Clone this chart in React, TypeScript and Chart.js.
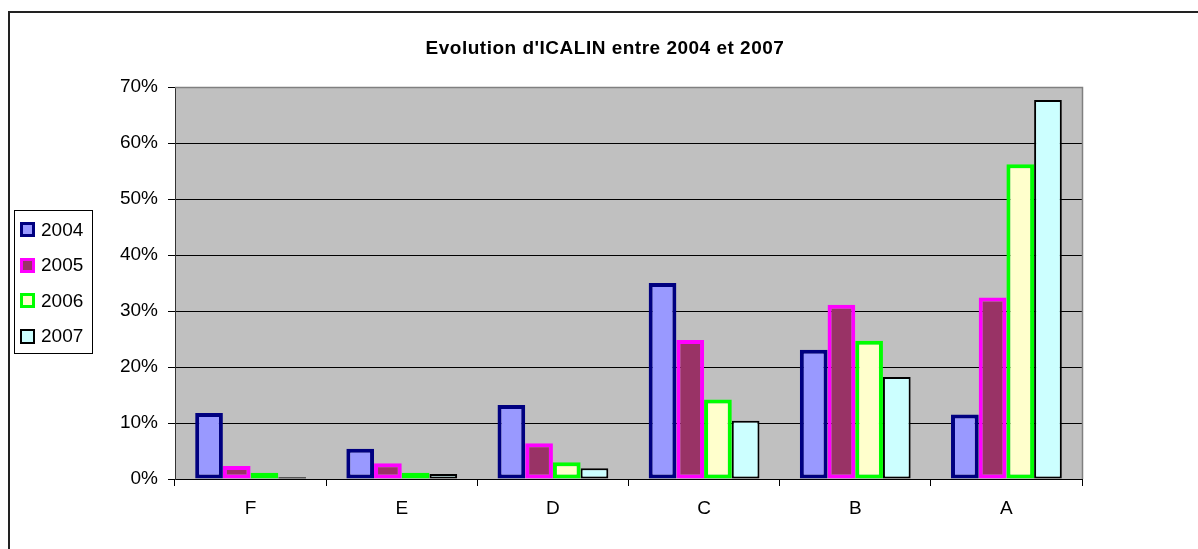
import React, { useEffect, useRef } from "react";
import { Chart, registerables } from "chart.js";

Chart.register(...registerables);

const TITLE = "Evolution d'ICALIN entre 2004 et 2007";
const categories = ["F", "E", "D", "C", "B", "A"];
const seriesLabels = ["2004", "2005", "2006", "2007"];
const s2004 = [11.8, 5.4, 13.2, 35.0, 23.1, 11.5];
const s2005 = [2.3, 2.8, 6.4, 24.8, 31.1, 32.4];
const s2006 = [1.1, 1.1, 3.0, 14.2, 24.7, 56.2];
const s2007 = [0.3, 0.9, 1.9, 10.4, 18.2, 67.7];
const yMin = 0;
const yMax = 70;
const yStep = 10;

const fills = ["#9999FF", "#993366", "#FFFFCC", "#CCFFFF"];
const borders = ["#000080", "#FF00FF", "#00FF00", "#000000"];
const borderWidths = [4, 4, 4, 2];

const FONT = "'Liberation Sans', Arial, sans-serif";

const decorPlugin = {
  id: "decor",
  beforeDraw(chart: any) {
    const { ctx, chartArea } = chart;
    ctx.save();
    ctx.fillStyle = "#FFFFFF";
    ctx.fillRect(0, 0, chart.width, chart.height);
    ctx.fillStyle = "#C0C0C0";
    ctx.fillRect(
      chartArea.left,
      chartArea.top,
      chartArea.right - chartArea.left,
      chartArea.bottom - chartArea.top
    );
    ctx.restore();
  },
  afterDraw(chart: any) {
    const { ctx, chartArea } = chart;
    ctx.save();
    // plot area right / top border
    ctx.strokeStyle = "#808080";
    ctx.lineWidth = 1.5;
    ctx.beginPath();
    ctx.moveTo(chartArea.left, Math.round(chartArea.top) + 0.5);
    ctx.lineTo(Math.round(chartArea.right) + 0.5, Math.round(chartArea.top) + 0.5);
    ctx.lineTo(Math.round(chartArea.right) + 0.5, chartArea.bottom);
    ctx.stroke();

    // outer frame
    ctx.strokeStyle = "#222222";
    ctx.lineWidth = 2;
    ctx.beginPath();
    ctx.moveTo(9, chart.height + 2);
    ctx.lineTo(9, 12);
    ctx.lineTo(chart.width + 2, 12);
    ctx.stroke();

    // title
    ctx.fillStyle = "#000000";
    ctx.font = `bold 19px ${FONT}`;
    try {
      (ctx as any).letterSpacing = "0.5px";
    } catch (e) {}
    ctx.textAlign = "center";
    ctx.textBaseline = "middle";
    ctx.fillText(TITLE, 605, 49);
    try {
      (ctx as any).letterSpacing = "0px";
    } catch (e) {}

    // legend
    ctx.strokeStyle = "#000000";
    ctx.lineWidth = 1;
    ctx.strokeRect(14.5, 210.5, 78, 143);
    const centers = [229.5, 265, 300.5, 336];
    ctx.font = `19px ${FONT}`;
    ctx.textAlign = "left";
    chart.data.datasets.forEach((ds: any, i: number) => {
      const cy = centers[i];
      const x0 = 20;
      const size = 15;
      const y0 = Math.round(cy - size / 2);
      const bw = i === 3 ? 2 : 3;
      ctx.fillStyle = ds.borderColor;
      ctx.fillRect(x0, y0, size, size);
      ctx.fillStyle = ds.backgroundColor;
      ctx.fillRect(x0 + bw, y0 + bw, size - 2 * bw, size - 2 * bw);
      ctx.fillStyle = "#000000";
      ctx.fillText(ds.label, 41, cy + 1);
    });
    ctx.restore();
  },
};

export default function App() {
  const ref = useRef<HTMLCanvasElement | null>(null);
  useEffect(() => {
    if (!ref.current) return;
    const series = [s2004, s2005, s2006, s2007];
    const chart = new Chart(ref.current, {
      type: "bar",
      data: {
        labels: categories,
        datasets: series.map((d, i) => ({
          label: seriesLabels[i],
          data: d,
          backgroundColor: fills[i],
          borderColor: borders[i],
          borderWidth: borderWidths[i],
          borderSkipped: false,
          categoryPercentage: 0.733,
          barPercentage: 1.0,
        })),
      },
      options: {
        responsive: false,
        animation: false,
        devicePixelRatio: 1,
        layout: { padding: { left: 0, right: 116, top: 87, bottom: 0 } },
        plugins: {
          legend: { display: false },
          title: { display: false },
          tooltip: { enabled: false },
        },
        scales: {
          x: {
            afterFit: (s: any) => {
              s.height = 70;
            },
            grid: {
              offset: true,
              drawOnChartArea: false,
              drawTicks: true,
              tickLength: 7,
              color: "#000000",
            },
            border: { display: true, color: "#000000", width: 1 },
            ticks: {
              color: "#000000",
              font: { family: FONT, size: 19 },
              padding: 11,
            },
          },
          y: {
            min: yMin,
            max: yMax,
            afterFit: (s: any) => {
              s.width = 175;
            },
            grid: {
              color: "#000000",
              lineWidth: 1,
              drawTicks: true,
              tickLength: 7,
            },
            border: { display: true, color: "#333333", width: 1 },
            ticks: {
              stepSize: yStep,
              color: "#000000",
              font: { family: FONT, size: 19 },
              padding: 10,
              callback: (v: any) => `${v}%`,
            },
          },
        },
      },
      plugins: [decorPlugin],
    });
    return () => chart.destroy();
  }, []);
  return (
    <div style={{ position: "fixed", left: 0, top: 0, width: 1198, height: 549, background: "#fff" }}>
      <canvas ref={ref} width={1198} height={549} style={{ display: "block" }} />
    </div>
  );
}
